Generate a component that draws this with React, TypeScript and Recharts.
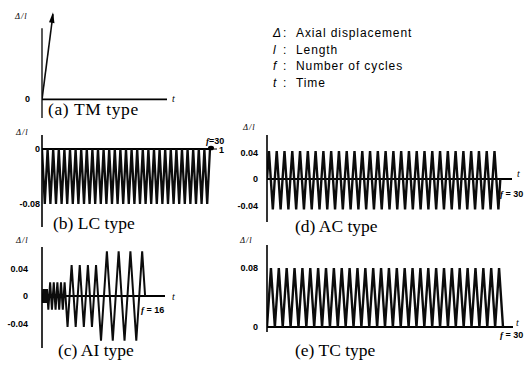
import React from 'react';
import { LineChart, Line, XAxis, YAxis, ReferenceLine } from 'recharts';

// ---------- data ----------
// (a) TM type: monotonic loading
const tmTime = [0, 0.88];
const tmDisp = [0, 1];

// (b) LC type: 30 compressive cycles, trough per cycle (Δ/l)
const lcTroughs = [
  -0.08, -0.08, -0.08, -0.08, -0.08, -0.08, -0.08, -0.08, -0.08, -0.08,
  -0.08, -0.08, -0.08, -0.08, -0.08, -0.08, -0.08, -0.08, -0.08, -0.08,
  -0.08, -0.08, -0.08, -0.08, -0.08, -0.08, -0.08, -0.08, -0.08, -0.08,
];

// (d) AC type: 30 alternating cycles
const acPeaks = [
  0.042, 0.042, 0.042, 0.042, 0.042, 0.042, 0.042, 0.042, 0.042, 0.042,
  0.042, 0.042, 0.042, 0.042, 0.042, 0.042, 0.042, 0.042, 0.042, 0.042,
  0.042, 0.042, 0.042, 0.042, 0.042, 0.042, 0.042, 0.042, 0.042, 0.042,
];
const acTroughs = [
  -0.046, -0.046, -0.046, -0.046, -0.046, -0.046, -0.046, -0.046, -0.046, -0.046,
  -0.046, -0.046, -0.046, -0.046, -0.046, -0.046, -0.046, -0.046, -0.046, -0.046,
  -0.046, -0.046, -0.046, -0.046, -0.046, -0.046, -0.046, -0.046, -0.046, -0.046,
];

// (c) AI type: 16 cycles of increasing amplitude
const aiAmplitudes = [
  0.01, 0.01, 0.01,
  0.02, 0.02, 0.02, 0.02, 0.02,
  0.045, 0.045, 0.045, 0.045,
  0.065, 0.065, 0.065, 0.065,
];

// (e) TC type: 30 tensile cycles
const tcPeaks = [
  0.08, 0.08, 0.08, 0.08, 0.08, 0.08, 0.08, 0.08, 0.08, 0.08,
  0.08, 0.08, 0.08, 0.08, 0.08, 0.08, 0.08, 0.08, 0.08, 0.08,
  0.08, 0.08, 0.08, 0.08, 0.08, 0.08, 0.08, 0.08, 0.08, 0.08,
];

// tick values and labels
const lcTicks = [0, -0.08];
const lcTickLabels = ['0', '-0.08'];
const acTicks = [0.04, 0, -0.04];
const acTickLabels = ['0.04', '0', '-0.04'];
const aiTicks = [0.04, 0, -0.04];
const aiTickLabels = ['0.04', '0', '-0.04'];
const tcTicks = [0.08, 0];
const tcTickLabels = ['0.08', '0'];
const tmTicks = [0];
const tmTickLabels = ['0'];

const legendSymbols = ['Δ', 'l', 'f', 't'];
const legendTexts = ['Axial displacement', 'Length', 'Number of cycles', 'Time'];

// ---------- tables built from the arrays ----------
const tmData = tmTime.map((t, i) => ({ t, v: tmDisp[i] }));

const lcData: { t: number; v: number }[] = [];
lcTroughs.forEach((v, i) => {
  lcData.push({ t: i, v: 0 });
  lcData.push({ t: i + 0.5, v });
});
lcData.push({ t: lcTroughs.length, v: 0 });

const acData: { t: number; v: number }[] = [];
acPeaks.forEach((p, i) => {
  acData.push({ t: i, v: 0 });
  acData.push({ t: i + 0.25, v: p });
  acData.push({ t: i + 0.75, v: acTroughs[i] });
});
acData.push({ t: acPeaks.length, v: 0 });

const tcData: { t: number; v: number }[] = [];
tcPeaks.forEach((v, i) => {
  tcData.push({ t: i, v: 0 });
  tcData.push({ t: i + 0.5, v });
});
tcData.push({ t: tcPeaks.length, v: 0 });

// AI: constant rate -> cycle duration proportional to amplitude, compression first
const aiData: { t: number; v: number }[] = [];
let aiT = 0;
aiAmplitudes.forEach((a) => {
  aiData.push({ t: aiT, v: 0 });
  aiData.push({ t: aiT + a, v: -a });
  aiData.push({ t: aiT + 3 * a, v: a });
  aiT += 4 * a;
});
aiData.push({ t: aiT, v: 0 });

// ---------- styling ----------
const INK = '#0c0c0c';
const tickStyle = { fill: '#000', fontSize: 9, fontFamily: 'Liberation Sans, Arial, sans-serif', fontWeight: 'bold' as const };

type PanelProps = {
  axisX: number;
  top: number;
  plotW: number;
  plotH: number;
  xMax: number;
  yDomain: [number, number];
  data: { t: number; v: number }[];
  ticks: number[];
  labels: string[];
  tickMargin: number;
  showAxisLine?: boolean;
  extra?: React.ReactNode;
  dot?: any;
  strokeWidth?: number;
};

const Y_W = 40;

function Panel(p: PanelProps) {
  const fmt = (v: number) => {
    const idx = p.ticks.findIndex((t) => Math.abs(t - v) < 1e-9);
    return idx >= 0 ? p.labels[idx] : String(v);
  };
  return (
    <div style={{ position: 'absolute', left: p.axisX - Y_W, top: p.top }}>
      <LineChart
        width={Y_W + p.plotW}
        height={p.plotH}
        data={p.data}
        margin={{ top: 0, right: 0, bottom: 0, left: 0 }}
      >
        <XAxis type="number" dataKey="t" domain={[0, p.xMax]} hide allowDataOverflow />
        <YAxis
          type="number"
          dataKey="v"
          domain={p.yDomain}
          allowDataOverflow
          width={Y_W}
          ticks={p.ticks}
          interval={0}
          tickFormatter={fmt}
          tickSize={0}
          tickMargin={p.tickMargin}
          tickLine={false}
          axisLine={p.showAxisLine === false ? false : { stroke: '#000', strokeWidth: 1.6 }}
          tick={tickStyle}
        />
        <ReferenceLine y={0} stroke="#000" strokeWidth={1.8} />
        {p.extra}
        <Line
          type="linear"
          dataKey="v"
          stroke={INK}
          strokeWidth={p.strokeWidth ?? 1.5}
          strokeLinejoin="miter"
          dot={p.dot ?? false}
          activeDot={false}
          isAnimationActive={false}
        />
      </LineChart>
    </div>
  );
}

const arrowDot = (props: any) => {
  const { cx, cy, index } = props;
  if (index !== tmData.length - 1) return <g key={`d${index}`} />;
  return (
    <polygon
      key={`d${index}`}
      points={`${cx},${cy - 2} ${cx - 4},${cy + 8} ${cx + 1.5},${cy + 9}`}
      fill="#000"
    />
  );
};

const serif = 'Liberation Serif, Times New Roman, serif';
const sans = 'Liberation Sans, Arial, sans-serif';

export default function App() {
  return (
    <div
      style={{
        position: 'fixed',
        left: 0,
        top: 0,
        width: 530,
        height: 371,
        background: '#fff',
        overflow: 'hidden',
      }}
    >
      {/* (a) TM */}
      <Panel
        axisX={42}
        top={10}
        plotW={125}
        plotH={108}
        xMax={10}
        yDomain={[-0.22, 1.05]}
        data={tmData}
        ticks={tmTicks}
        labels={tmTickLabels}
        tickMargin={12}
        showAxisLine={false}
        dot={arrowDot}
        strokeWidth={1.6}
        extra={
          <ReferenceLine
            segment={[
              { x: 0, y: -0.22 },
              { x: 0, y: 0.835 },
            ]}
            stroke="#000"
            strokeWidth={1.3}
          />
        }
      />
      {/* (b) LC */}
      <Panel
        axisX={42}
        top={135}
        plotW={170}
        plotH={92}
        xMax={30.36}
        yDomain={[-0.1135, 0.0204]}
        data={lcData}
        ticks={lcTicks}
        labels={lcTickLabels}
        tickMargin={2}
        strokeWidth={2.3}
      />
      {/* (d) AC */}
      <Panel
        axisX={267}
        top={135}
        plotW={245}
        plotH={87}
        xMax={31.5}
        yDomain={[-0.0649, 0.0664]}
        data={acData}
        ticks={acTicks}
        labels={acTickLabels}
        tickMargin={9}
        strokeWidth={2.4}
      />
      {/* (c) AI */}
      <Panel
        axisX={42}
        top={247}
        plotW={123}
        plotH={101}
        xMax={2.72}
        yDomain={[-0.0756, 0.0713]}
        data={aiData}
        ticks={aiTicks}
        labels={aiTickLabels}
        tickMargin={14}
        strokeWidth={2}
      />
      {/* (e) TC */}
      <Panel
        axisX={267}
        top={245}
        plotW={246}
        plotH={87}
        xMax={31.27}
        yDomain={[-0.0068, 0.1112]}
        data={tcData}
        ticks={tcTicks}
        labels={tcTickLabels}
        tickMargin={9}
        strokeWidth={2.4}
      />

      {/* text overlay */}
      <svg
        width={530}
        height={371}
        style={{ position: 'absolute', left: 0, top: 0, pointerEvents: 'none' }}
      >
        {/* legend */}
        {legendSymbols.map((s, i) => (
          <g key={s} fontFamily={sans} fontSize={12} fill="#000">
            <text x={273} y={37 + i * 16.5} fontStyle="italic">{s}</text>
            <text x={283} y={37 + i * 16.5}>:</text>
            <text x={296} y={37 + i * 16.5} letterSpacing={0.9}>{legendTexts[i]}</text>
          </g>
        ))}

        {/* Δ/l axis titles */}
        <g fontFamily={serif} fontStyle="italic" fontSize={8.5} fill="#000" letterSpacing={1}>
          <text x={15} y={19}>Δ/l</text>
          <text x={16} y={135}>Δ/l</text>
          <text x={243} y={130}>Δ/l</text>
          <text x={16} y={243}>Δ/l</text>
          <text x={240} y={243}>Δ/l</text>
        </g>

        {/* time axis labels */}
        <g fontFamily={serif} fontStyle="italic" fontSize={10} fill="#000">
          <text x={172} y={102}>t</text>
          <text x={172} y={300}>t</text>
          <text x={517} y={177}>t</text>
          <text x={516} y={326}>t</text>
        </g>

        {/* cycle counts */}
        <g fontFamily={sans} fontSize={9} fontWeight="bold" fill="#000">
          <text x={206} y={144}><tspan fontStyle="italic" fontFamily={serif}>f</tspan>=30</text>
          <text x={500} y={197}><tspan fontStyle="italic" fontFamily={serif}>f</tspan> = 30</text>
          <text x={141} y={313}><tspan fontStyle="italic" fontFamily={serif}>f</tspan> = 16</text>
          <text x={500} y={338}><tspan fontStyle="italic" fontFamily={serif}>f</tspan> = 30</text>
          <text x={219} y={153}>1</text>
        </g>
        <ellipse cx={211} cy={148} rx={3} ry={2.3} fill="#000" />
        <line x1={213} y1={149} x2={217} y2={149} stroke="#000" strokeWidth={1} />

        {/* captions */}
        <g fontFamily={serif} fontSize={17.5} fill="#000">
          <text x={48} y={115} letterSpacing={0.6}>(a) TM type</text>
          <text x={53} y={229}>(b) LC type</text>
          <text x={295} y={232}>(d) AC type</text>
          <text x={58} y={356}>(c) AI type</text>
          <text x={295} y={356}>(e) TC type</text>
        </g>
      </svg>
    </div>
  );
}
